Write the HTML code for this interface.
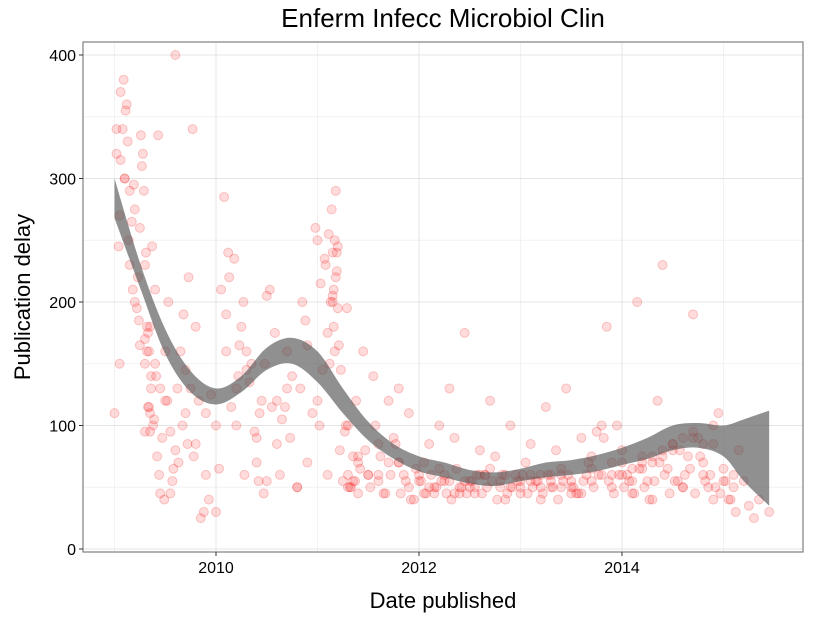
<!DOCTYPE html>
<html><head><meta charset="utf-8"><style>
body{margin:0;background:#fff;font-family:"Liberation Sans",sans-serif}
</style></head><body>
<svg id="c" width="825" height="618" xmlns="http://www.w3.org/2000/svg"></svg>
<script>
const xTicks=[2010,2012,2014];
const yTicks=[0,100,200,300,400];
const bandT=[2009.0,2009.25,2009.5,2009.75,2010.0,2010.25,2010.5,2010.75,2011.0,2011.25,2011.5,2011.75,2012.0,2012.25,2012.5,2012.75,2013.0,2013.25,2013.5,2013.75,2014.0,2014.25,2014.5,2014.75,2015.0,2015.2,2015.45];
const bandLo=[268,212,158,127,117,127,145,150,135,110,88,73,63,58,53,51,55,58,60,63,68,73,80,82,75,55,35];
const bandHi=[300,232,178,144,130,140,163,171,160,130,103,85,75,70,64,62,65,70,72,76,82,90,100,102,100,105,112];
const ptX=[2009.0,2009.02,2009.04,2009.05,2009.06,2009.08,2009.1,2009.12,2009.14,2009.15,2009.18,2009.2,2009.22,2009.24,2009.25,2009.27,2009.28,2009.3,2009.3,2009.32,2009.33,2009.35,2009.35,2009.36,2009.38,2009.4,2009.42,2009.44,2009.45,2009.5,2009.52,2009.55,2009.58,2009.6,2009.62,2009.65,2009.68,2009.7,2009.72,2009.75,2009.78,2009.8,2009.85,2009.9,2009.95,2010.0,2010.05,2010.1,2010.12,2010.15,2010.2,2010.22,2010.25,2010.28,2010.3,2010.35,2010.4,2010.42,2010.45,2010.48,2010.5,2010.55,2010.6,2010.65,2010.7,2010.75,2010.8,2010.85,2010.9,2010.95,2011.0,2011.02,2011.05,2011.08,2011.1,2011.12,2011.14,2011.15,2011.16,2011.18,2011.2,2011.22,2011.25,2011.28,2011.3,2011.32,2011.35,2011.38,2011.4,2011.45,2011.5,2011.55,2011.6,2011.65,2011.7,2011.75,2011.8,2011.85,2011.9,2011.95,2012.0,2012.05,2012.1,2012.15,2012.2,2012.25,2012.3,2012.35,2012.4,2012.45,2012.5,2012.55,2012.6,2012.65,2012.7,2012.75,2012.8,2012.85,2012.9,2012.95,2013.0,2013.05,2013.1,2013.15,2013.2,2013.25,2013.3,2013.35,2013.4,2013.45,2013.5,2013.55,2013.6,2013.65,2013.7,2013.75,2013.8,2013.85,2013.9,2013.95,2014.0,2014.05,2014.1,2014.15,2014.2,2014.25,2014.3,2014.35,2014.4,2014.45,2014.5,2014.55,2014.6,2014.65,2014.7,2014.75,2014.8,2014.85,2014.9,2014.95,2015.0,2015.05,2015.1,2015.15,2015.2,2015.3,2015.45,
2009.05,2009.1,2009.15,2009.2,2009.25,2009.3,2009.35,2009.4,2009.45,2009.5,2009.55,2009.6,2009.7,2009.8,2009.9,2010.0,2010.1,2010.2,2010.3,2010.4,2010.5,2010.6,2010.7,2010.8,2010.9,2011.0,2011.1,2011.15,2011.2,2011.3,2011.4,2011.5,2011.6,2011.7,2011.8,2011.9,2012.0,2012.1,2012.2,2012.3,2012.4,2012.5,2012.6,2012.7,2012.8,2012.9,2013.0,2013.1,2013.2,2013.3,2013.4,2013.5,2013.6,2013.7,2013.8,2013.9,2014.0,2014.1,2014.2,2014.3,2014.4,2014.5,2014.6,2014.7,2014.8,2014.9,2015.0,2015.1,
2009.3,2009.32,2009.34,2009.36,2011.15,2011.16,2011.17,2011.18,2011.19,2012.15,2012.25,2012.35,2012.55,2012.65,2013.1,2013.2,2013.3,2013.5,2013.9,2014.1,2014.3,2014.5,2014.7,2014.9,2011.3,2011.35,2011.4,2011.6,2011.8,2012.05,2012.45,2012.85,2013.0,2013.4,2013.7,2014.0,2014.2,2014.4,2014.6,2014.8,
2009.02,2009.06,2009.09,2009.11,2009.13,2009.17,2009.19,2009.23,2009.26,2009.29,2009.31,2009.33,2009.34,2009.37,2009.39,2009.41,2009.43,2009.47,2009.49,2009.53,2009.57,2009.63,2009.67,2009.73,2009.77,2009.83,2009.88,2009.93,2010.03,2010.08,2010.13,2010.18,2010.23,2010.27,2010.33,2010.38,2010.43,2010.47,2010.53,2010.58,2010.63,2010.68,2010.73,2010.83,2010.88,2010.98,2011.03,2011.07,2011.11,2011.13,2011.17,2011.19,2011.21,2011.23,2011.27,2011.29,2011.33,2011.37,2011.42,2011.47,2011.52,2011.57,2011.62,2011.67,2011.72,2011.77,2011.82,2011.87,2011.92,2011.97,2012.02,2012.07,2012.12,2012.17,2012.22,2012.27,2012.32,2012.37,2012.42,2012.47,2012.52,2012.57,2012.62,2012.67,2012.72,2012.77,2012.82,2012.87,2012.92,2012.97,2013.02,2013.07,2013.12,2013.17,2013.22,2013.27,2013.32,2013.37,2013.42,2013.47,2013.52,2013.57,2013.62,2013.67,2013.72,2013.77,2013.82,2013.87,2013.92,2013.97,2014.02,2014.07,2014.12,2014.17,2014.22,2014.27,2014.32,2014.37,2014.42,2014.47,2014.52,2014.57,2014.62,2014.67,2014.72,2014.77,2014.82,2014.87,2014.92,2014.97,2015.02,2015.07,2015.12,2015.25,2015.35];
const ptY=[110,320,245,270,370,340,300,360,250,230,210,275,195,185,260,310,320,230,150,160,115,180,95,130,100,210,75,60,45,160,120,95,65,400,130,160,190,110,85,130,75,180,25,110,125,30,210,190,240,115,100,140,180,60,160,150,70,55,120,150,205,115,85,105,160,140,50,200,165,110,250,100,145,230,175,150,275,240,210,290,195,80,55,100,60,50,75,120,70,160,60,140,85,45,70,90,130,60,110,40,55,70,85,45,100,60,130,90,50,175,55,45,80,60,120,75,50,40,100,60,50,70,85,55,40,115,60,80,50,130,55,45,90,60,75,95,60,180,50,100,80,60,45,200,70,55,40,120,230,65,85,55,50,75,190,90,70,50,100,110,65,40,60,80,55,25,30,
150,300,290,200,165,95,110,150,130,120,45,80,145,85,60,100,160,130,145,90,55,120,130,50,70,120,60,205,245,100,75,60,55,120,70,50,60,50,65,55,45,50,60,65,55,50,45,60,50,55,65,50,45,55,100,60,60,55,65,70,75,85,50,95,60,40,55,50,
170,180,160,140,200,180,160,220,240,50,55,45,50,60,55,60,50,45,70,65,75,80,90,85,50,55,45,60,70,45,55,60,55,60,65,70,75,80,90,85,
340,315,380,355,330,265,295,220,335,290,240,175,115,245,105,140,335,90,40,200,55,70,100,220,340,120,30,40,65,285,220,235,165,200,135,95,110,45,210,175,60,115,90,130,185,260,215,235,255,200,250,225,165,145,95,195,50,55,65,80,50,100,75,45,60,85,45,55,40,65,55,45,60,50,55,45,40,65,50,45,55,60,45,50,55,40,60,45,50,55,60,45,50,55,45,60,50,40,55,60,50,45,55,70,50,60,90,55,45,60,50,55,45,65,50,40,55,70,60,45,55,80,60,65,45,75,55,60,50,45,55,40,30,35,40];
const X0=2010,XA=216,SX=101.5,YB=549,SY=1.235;
const sx=t=>XA+(t-X0)*SX, sy=v=>YB-v*SY;
const svg=document.getElementById('c');const NS='http://www.w3.org/2000/svg';
function mk(tag,attrs,name,txt){const e=document.createElementNS(NS,tag);for(const k in attrs)e.setAttribute(k,attrs[k]);


if(txt!==undefined)e.textContent=txt;svg.appendChild(e);return e;}
function smooth(pts){let d='';for(let i=0;i<pts.length-1;i++){const p0=pts[Math.max(0,i-1)],p1=pts[i],p2=pts[i+1],p3=pts[Math.min(pts.length-1,i+2)];
const c1=[p1[0]+(p2[0]-p0[0])/6,p1[1]+(p2[1]-p0[1])/6],c2=[p2[0]-(p3[0]-p1[0])/6,p2[1]-(p3[1]-p1[1])/6];
d+='C'+c1+' '+c2+' '+p2;}return d;}
const L=83,R=803,T=42,B=552;
mk('rect',{x:L,y:T,width:R-L,height:B-T,fill:'#fff'},'plot-panel');
[2009,2011,2013,2015].forEach(t=>mk('line',{x1:sx(t),x2:sx(t),y1:T,y2:B,stroke:'#f2f2f2','stroke-width':1},'minor-gridline-x'));
[50,150,250,350].forEach(v=>mk('line',{x1:L,x2:R,y1:sy(v),y2:sy(v),stroke:'#f2f2f2','stroke-width':1},'minor-gridline-y'));
xTicks.forEach(t=>mk('line',{x1:sx(t),x2:sx(t),y1:T,y2:B,stroke:'#e4e4e4','stroke-width':1},'gridline-x'));
yTicks.forEach(v=>mk('line',{x1:L,x2:R,y1:sy(v),y2:sy(v),stroke:'#e4e4e4','stroke-width':1},'gridline-y'));
for(let i=0;i<ptX.length;i++)mk('circle',{cx:sx(ptX[i]),cy:sy(ptY[i]),r:4.5,fill:'rgba(255,0,0,0.14)',stroke:'rgba(230,0,0,0.2)','stroke-width':1},'data-point');
const up=bandT.map((t,i)=>[sx(t),sy(bandHi[i])]);
const lo=bandT.map((t,i)=>[sx(t),sy(bandLo[i])]).reverse();
const d='M'+up[0]+smooth(up)+'L'+lo[0]+smooth(lo)+'Z';
mk('path',{d:d,fill:'#555','fill-opacity':0.65},'smooth-confidence-band');
mk('rect',{x:L,y:T,width:R-L,height:B-T,fill:'none',stroke:'#7f7f7f','stroke-width':1.2},'panel-border');
xTicks.forEach(t=>{mk('line',{x1:sx(t),x2:sx(t),y1:B,y2:B+4,stroke:'#333'},'x-tick');
mk('text',{x:sx(t),y:B+21,'text-anchor':'middle','font-size':16,fill:'#000'},'x-tick-label',String(t));});
yTicks.forEach(v=>{mk('line',{x1:L-4,x2:L,y1:sy(v),y2:sy(v),stroke:'#333'},'y-tick');
mk('text',{x:L-7,y:sy(v)+6,'text-anchor':'end','font-size':16,fill:'#000'},'y-tick-label',String(v));});
mk('text',{x:443,y:608,'text-anchor':'middle','font-size':22},'x-axis-title','Date published');
mk('text',{x:30,y:297,'text-anchor':'middle','font-size':22,transform:'rotate(-90 30 297)'},'y-axis-title','Publication delay');
mk('text',{x:443,y:27,'text-anchor':'middle','font-size':26},'chart-title','Enferm Infecc Microbiol Clin');
</script>
</body></html>
